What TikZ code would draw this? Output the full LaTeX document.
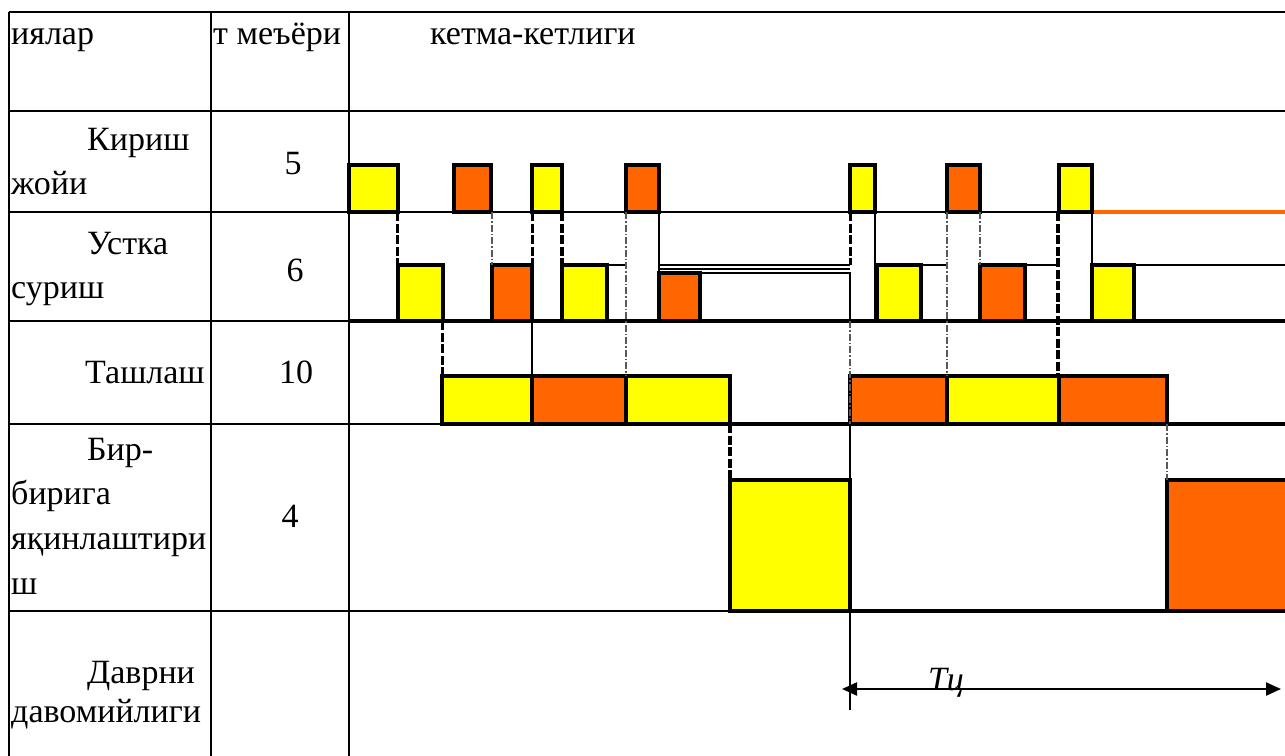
\documentclass[tikz,border=0pt]{standalone}
\usepackage{fontspec}
\setmainfont{Liberation Serif}
\usetikzlibrary{arrows.meta}
\definecolor{yel}{HTML}{FFFF00}
\definecolor{org}{HTML}{FF6600}
\begin{document}
\begin{tikzpicture}[x=1pt,y=-1pt,
  tl/.style={line width=2.8pt},
  blk/.style={draw=black,line width=3.2pt},
  yb/.style={blk,fill=yel},
  ob/.style={blk,fill=org},
  baseln/.style={line width=4pt},
  dsh/.style={line width=3pt,dash pattern=on 9pt off 2.5pt},
  tdsh/.style={line width=4.2pt,dash pattern=on 9pt off 2.5pt},
  dd/.style={line width=1.6pt,draw=black!65,dash pattern=on 7pt off 2pt on 1.5pt off 2pt},
  sol/.style={line width=2.8pt},
  thin3/.style={line width=1.8pt},
  txt/.style={font=\fontsize{34}{40}\selectfont, inner sep=0pt, anchor=base west},
  num/.style={font=\fontsize{34}{40}\selectfont, inner sep=0pt, anchor=base}]
\useasboundingbox (0,0) rectangle (1285,755);
\fill[white] (0,0) rectangle (1285,755);

% table lines
\draw[tl] (9,12) -- (1290,12);
\draw[tl] (9,111) -- (1290,111);
\draw[tl] (9,212) -- (1290,212);
\draw[tl] (9,321) -- (1290,321);
\draw[tl] (9,424) -- (1290,424);
\draw[tl] (9,611) -- (1290,611);
\draw[tl] (9,12) -- (9,760);
\draw[tl] (211,12) -- (211,760);
\draw[tl] (349,12) -- (349,760);

% chart base lines
\draw[baseln] (349,321) -- (1290,321);
\draw[baseln] (442,424) -- (1290,424);
\draw[baseln] (730,611) -- (1290,611);
\draw[line width=3.2pt,draw=org] (1092,212) -- (1290,212);

% row 1 blocks
\draw[yb] (349,165) rectangle (398,212);
\draw[ob] (454,165) rectangle (491,212);
\draw[yb] (532,165) rectangle (562,212);
\draw[ob] (626,165) rectangle (659,212);
\draw[yb] (850,165) rectangle (875,212);
\draw[ob] (947,165) rectangle (980,212);
\draw[yb] (1059,165) rectangle (1092,212);

% row 2 lines and blocks
\draw[thin3] (659,265) -- (850,265);
\draw[thin3] (659,269) -- (850,269);
\draw[sol] (659,273) -- (850,273) -- (850,321);
\draw[sol] (607,265) -- (625,265);
\draw[sol] (921,265) -- (946,265);
\draw[sol] (1025,265) -- (1058,265);
\draw[sol] (1134,265) -- (1290,265);
\draw[yb] (398,265) rectangle (443,321);
\draw[ob] (492,265) rectangle (532,321);
\draw[yb] (562,265) rectangle (607,321);
\draw[ob] (659,273) rectangle (700,321);
\draw[yb] (877,265) rectangle (921,321);
\draw[ob] (980,265) rectangle (1025,321);
\draw[yb] (1092,265) rectangle (1134,321);

% row 3 blocks
\draw[yb] (442,376) rectangle (532,424);
\draw[ob] (532,376) rectangle (626,424);
\draw[yb] (626,376) rectangle (730,424);
\draw[ob] (850,376) rectangle (947,424);
\draw[yb] (947,376) rectangle (1059,424);
\draw[ob] (1059,376) rectangle (1167,424);

% row 4 blocks
\draw[yb] (730,480) rectangle (850,611);
\draw[ob] (1167,480) rectangle (1295,611);

% verticals
\draw[dsh] (397,212) -- (397,321);
\draw[dd] (492,212) -- (492,265);
\draw[dsh] (532,212) -- (532,265);
\draw[tdsh] (562,212) -- (562,321);
\draw[dd] (626,212) -- (626,376);
\draw[sol] (659,212) -- (659,321);
\draw[dsh] (850,212) -- (850,265);
\draw[sol] (875,212) -- (875,321);
\draw[dd] (947,212) -- (947,376);
\draw[dd] (980,212) -- (980,265);
\draw[tdsh] (1058,212) -- (1058,376);
\draw[sol] (1092,212) -- (1092,321);
\draw[dsh] (442,321) -- (442,424);
\draw[sol] (532,321) -- (532,376);
\draw[dd] (850,321) -- (850,424);
\draw[tdsh] (730,424) -- (730,611);
\draw[dd] (1167,424) -- (1167,480);
\draw[sol] (850,424) -- (850,710);

% cycle arrow
\coordinate (ta) at (842,689);
\coordinate (tb) at (1281,689);
\draw[line width=2.2pt,{Triangle[length=15pt,width=13pt]}-{Triangle[length=15pt,width=13pt]}] (ta) -- (tb);
\node[num,font=\fontsize{34}{40}\selectfont\itshape] (tc) at (946,690) {Tц};

% header
\node[txt] (h1) at (11,44) {иялар};
\node[txt] (h2) at (213,44) {т меъёри};
\node[txt] (h3) at (430,44) {кетма-кетлиги};

% row labels
\node[txt] (r1a) at (87,150) {Кириш};
\node[txt] (r1b) at (11,194) {жойи};
\node[num] (n1) at (293,174) {5};
\node[txt] (r2a) at (87,254) {Устка};
\node[txt] (r2b) at (11,298) {суриш};
\node[num] (n2) at (295,281) {6};
\node[txt] (r3a) at (85,383) {Ташлаш};
\node[num] (n3) at (296,383) {10};
\node[txt] (r4a) at (87,460) {Бир-};
\node[txt] (r4b) at (11,504) {бирига};
\node[txt] (r4c) at (11,549) {яқинлаштири};
\node[txt] (r4d) at (11,594) {ш};
\node[num] (n4) at (290,527) {4};
\node[txt] (r5a) at (87,683) {Даврни};
\node[txt] (r5b) at (11,722) {давомийлиги};
\end{tikzpicture}
\end{document}
